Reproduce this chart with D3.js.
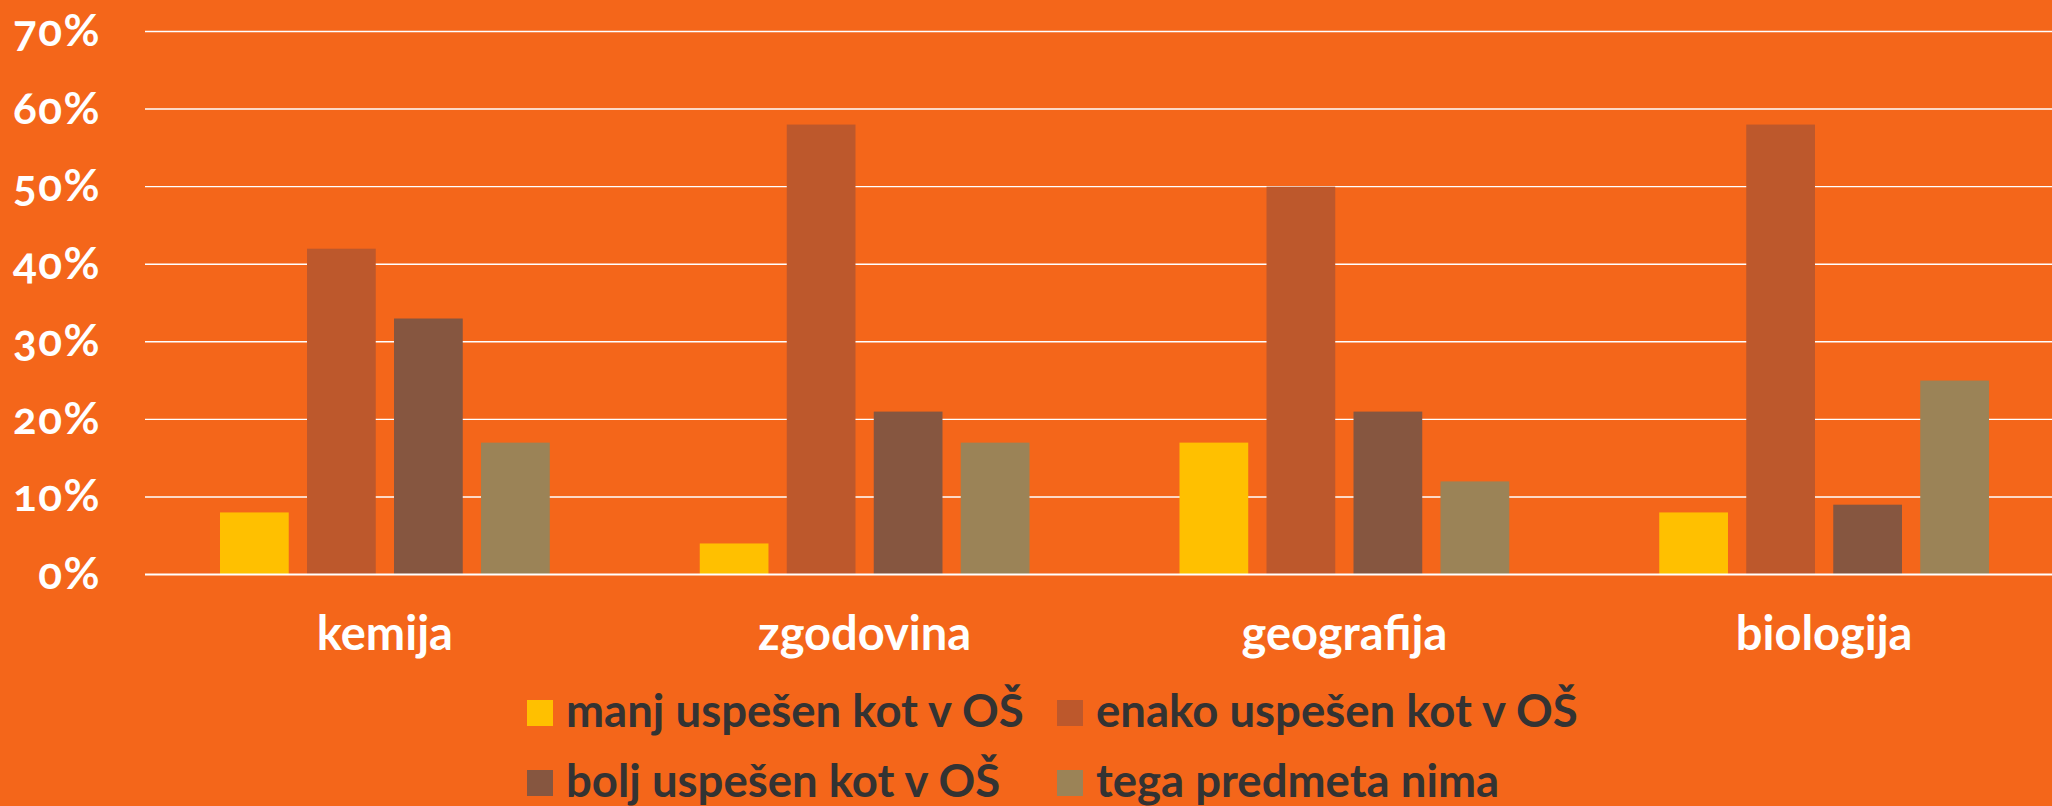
<!DOCTYPE html>
<html>
<head>
<meta charset="utf-8">
<script src="https://cdn.jsdelivr.net/npm/d3@7"></script>
<style>
  html, body { margin: 0; padding: 0; background: #F4661A; overflow: hidden; }
  svg { display: block; }
  text { font-family: Lato, "Open Sans", sans-serif; font-weight: bold; }
  .y-axis text { font-feature-settings: "onum" 1; }
</style>
</head>
<body>
<div id="chart"></div>
<script>
// data
const subjects = ["kemija", "zgodovina", "geografija", "biologija"];
const seriesNames = ["manj uspešen kot v OŠ", "enako uspešen kot v OŠ", "bolj uspešen kot v OŠ", "tega predmeta nima"];
const manj = [8, 4, 17, 8];
const enako = [42, 58, 50, 58];
const bolj = [33, 21, 21, 9];
const nima = [17, 17, 12, 25];
const yTicks = [0, 10, 20, 30, 40, 50, 60, 70];

const colors = ["#FFC000", "#BD582C", "#865640", "#9B8357"];
const seriesValues = [manj, enako, bolj, nima];

const W = 2052, H = 806;
const svg = d3.select("#chart").append("svg")
  .attr("width", W)
  .attr("height", H);

svg.append("rect").attr("width", W).attr("height", H).attr("fill", "#F4661A");

// scales
const x0 = d3.scaleBand().domain(subjects).range([145, 2064]).padding(0);
const x1 = d3.scaleBand().domain(d3.range(seriesNames.length))
  .range([0, x0.bandwidth()])
  .paddingInner(0.21)
  .paddingOuter(0.862);
const y = d3.scaleLinear().domain([0, 70]).range([574.5, 31.5]);

// gridlines
svg.append("g")
  .selectAll("line")
  .data(yTicks.filter(d => d > 0))
  .enter().append("line")
  .attr("x1", 145)
  .attr("x2", W)
  .attr("y1", d => y(d))
  .attr("y2", d => y(d))
  .attr("stroke", "#fff")
  .attr("stroke-width", 1.4);

// bars
const groups = svg.append("g")
  .selectAll("g")
  .data(subjects)
  .enter().append("g")
  .attr("transform", d => `translate(${x0(d)},0)`);

groups.selectAll("rect")
  .data((d, i) => seriesValues.map((s, k) => ({ k: k, v: s[i] })))
  .enter().append("rect")
  .attr("x", d => x1(d.k))
  .attr("y", d => y(d.v))
  .attr("width", x1.bandwidth())
  .attr("height", d => y(0) - y(d.v))
  .attr("fill", d => colors[d.k]);

// baseline
svg.append("line")
  .attr("x1", 145).attr("x2", W)
  .attr("y1", y(0)).attr("y2", y(0))
  .attr("stroke", "#fff")
  .attr("stroke-width", 2.2);

// y axis labels
const yAxis = d3.axisLeft(y)
  .tickValues(yTicks)
  .tickSize(0)
  .tickPadding(0)
  .tickFormat(d => d + "%");

const yg = svg.append("g")
  .attr("class", "y-axis")
  .attr("transform", "translate(101,0)")
  .call(yAxis);
yg.select(".domain").remove();
yg.selectAll("text")
  .attr("fill", "#fff")
  .attr("dy", null)
  .attr("y", 14)
  .style("font-size", "44px")
  .style("letter-spacing", "1.5px");

// category labels
const xAxis = d3.axisBottom(x0).tickSize(0).tickPadding(0);
const xg = svg.append("g")
  .attr("transform", "translate(0,650)")
  .call(xAxis);
xg.select(".domain").remove();
xg.selectAll("text")
  .attr("fill", "#fff")
  .attr("dy", null)
  .attr("y", 0)
  .style("font-size", "47px");

// legend
const legend = svg.append("g")
  .selectAll("g")
  .data(seriesNames)
  .enter().append("g")
  .attr("transform", (d, i) => `translate(${527 + (i % 2) * 530},${700 + Math.floor(i / 2) * 70})`);

legend.append("rect")
  .attr("width", 26)
  .attr("height", 26)
  .attr("fill", (d, i) => colors[i]);

legend.append("text")
  .attr("x", 39)
  .attr("y", 26.5)
  .attr("fill", "#333333")
  .style("font-size", "45.5px")
  .text(d => d);
</script>
</body>
</html>
